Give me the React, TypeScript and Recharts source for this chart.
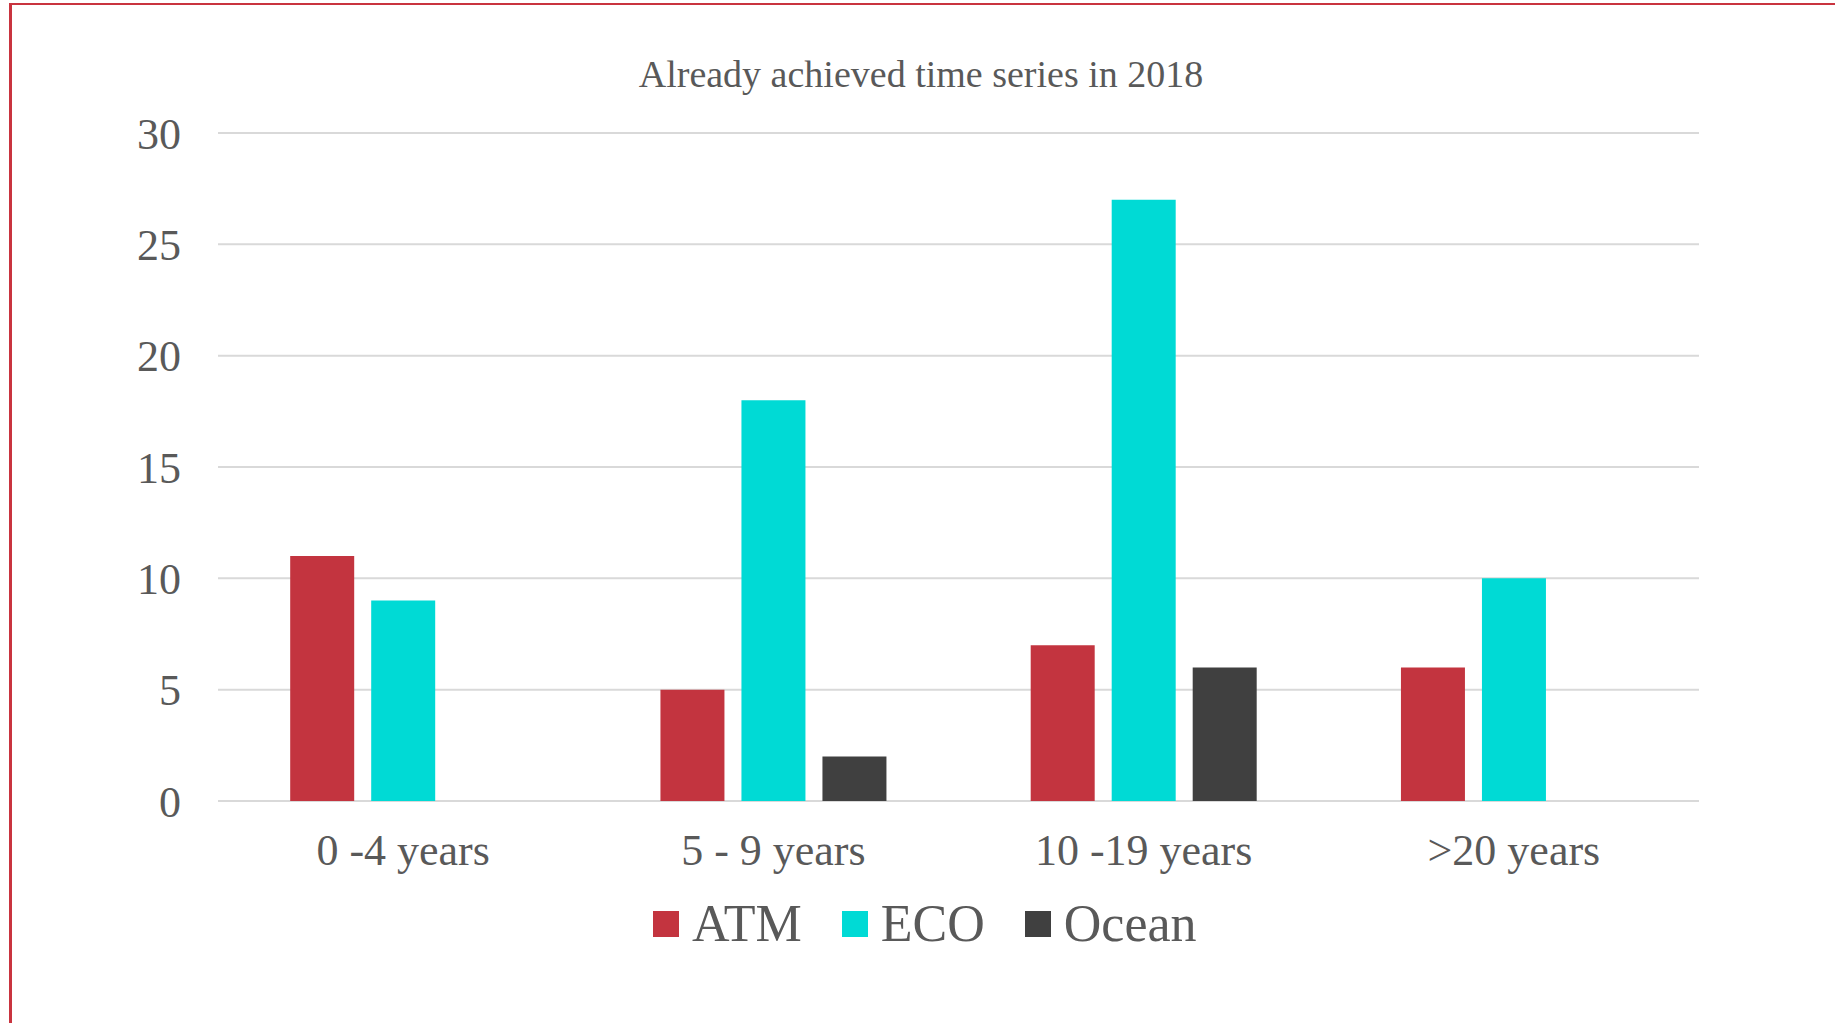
import React from 'react';
import { BarChart, Bar, XAxis, YAxis, CartesianGrid, Legend } from 'recharts';

const categories = ['0 -4 years', '5 - 9 years', '10 -19 years', '>20 years'];
const atmValues = [11, 5, 7, 6];
const ecoValues = [9, 18, 27, 10];
const oceanValues = [0, 2, 6, 0];
const yTicks = [0, 5, 10, 15, 20, 25, 30];
const seriesNames = ['ATM', 'ECO', 'Ocean'];
const seriesColors = ['#C3343F', '#00DAD5', '#404040'];
const title = 'Already achieved time series in 2018';

const data = categories.map((c, i) => ({
  category: c,
  ATM: atmValues[i],
  ECO: ecoValues[i],
  Ocean: oceanValues[i],
}));

const FONT = '"Liberation Serif", serif';
const TEXT = '#595959';

const LegendContent = (props: any) => {
  const { payload } = props;
  return (
    <div style={{ display: 'flex', alignItems: 'center', fontFamily: FONT, fontSize: 52, color: TEXT, whiteSpace: 'nowrap' }}>
      {(payload || []).map((p: any, i: number) => (
        <div key={i} style={{ display: 'flex', alignItems: 'center', marginRight: i < payload.length - 1 ? 40 : 0 }}>
          <div style={{ width: 26, height: 26, background: p.color, marginRight: 13 }} />
          <span style={{ lineHeight: '52px' }}>{p.value}</span>
        </div>
      ))}
    </div>
  );
};

export default function App() {
  return (
    <div style={{ position: 'fixed', left: 0, top: 0, width: 1835, height: 1023, background: '#fff', overflow: 'hidden' }}>
      <div style={{ position: 'absolute', left: 10, top: 3, right: 0, height: 2, background: '#C9343F' }} />
      <div style={{ position: 'absolute', left: 9, top: 3, width: 3, bottom: 0, background: '#C9343F' }} />
      <div
        style={{
          position: 'absolute',
          left: 0,
          width: 1842,
          top: 52,
          textAlign: 'center',
          fontFamily: FONT,
          fontSize: 38,
          color: TEXT,
          lineHeight: '44px',
        }}
      >
        {title}
      </div>
      <div style={{ position: 'absolute', left: 0, top: 0 }}>
        <BarChart
          width={1835}
          height={1023}
          data={data}
          margin={{ top: 133, right: 136, bottom: 60, left: 138 }}
          barCategoryGap="19.5%"
          barGap={17}
        >
          <CartesianGrid vertical={false} stroke="#D9D9D9" strokeWidth={2} />
          <XAxis
            dataKey="category"
            axisLine={false}
            tickLine={false}
            tickSize={0}
            tickMargin={33}
            height={110}
            interval={0}
            tick={{ fill: TEXT, fontSize: 44, fontFamily: FONT }}
          />
          <YAxis
            domain={[0, 30]}
            ticks={yTicks}
            axisLine={false}
            tickLine={false}
            tickSize={0}
            tickMargin={37}
            width={80}
            tick={{ fill: TEXT, fontSize: 44, fontFamily: FONT }}
          />
          <Legend
            content={<LegendContent />}
            wrapperStyle={{ position: 'absolute', left: 653, top: 898, width: 'auto' }}
          />
          {seriesNames.map((n, i) => (
            <Bar key={n} dataKey={n} name={n} fill={seriesColors[i]} isAnimationActive={false} />
          ))}
        </BarChart>
      </div>
    </div>
  );
}
